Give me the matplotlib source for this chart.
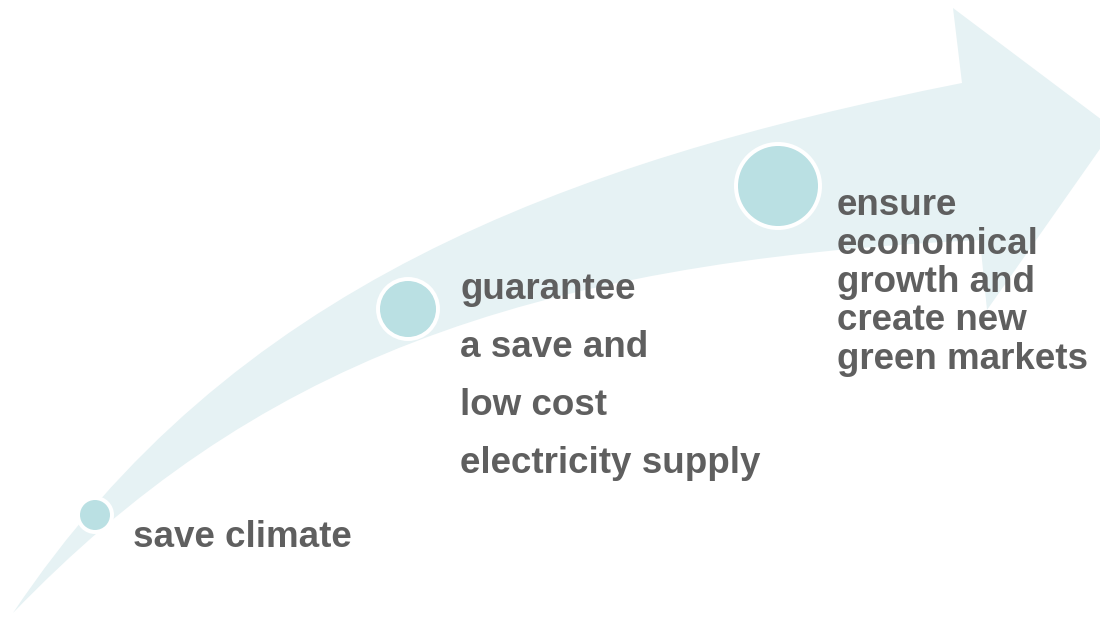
import matplotlib.pyplot as plt
from matplotlib.path import Path
from matplotlib.patches import PathPatch, Circle

# Три шага вдоль стрелы: подписи и размеры кружков
steps = ["save climate",
         "guarantee\na save and\nlow cost\nelectricity supply",
         "ensure\neconomical\ngrowth and\ncreate new\ngreen markets"]
circle_centers = [(95, 515), (408, 309), (778, 186)]
circle_radius = [15, 28, 40]
text_start = [(133, 547), (460, 299), (837, 215)]
line_step = [0, 58, 38.5]

band_color = '#e6f2f4'
dot_color = '#bae0e3'
text_color = '#5f5f5f'

fig = plt.figure(figsize=(11, 6.17), dpi=100)
ax = fig.add_axes([0, 0, 1, 1])
ax.set_xlim(0, 1100)
ax.set_ylim(617, 0)
ax.axis('off')

# Изогнутая стрела: верхний край, наконечник, нижний край
verts = [(13, 613),
         (230, 288), (560, 163), (962, 83),
         (953, 8), (1114, 129), (987, 310), (980, 240),
         (520, 262), (250, 367), (13, 613),
         (13, 613)]
codes = [Path.MOVETO,
         Path.CURVE4, Path.CURVE4, Path.CURVE4,
         Path.LINETO, Path.LINETO, Path.LINETO, Path.LINETO,
         Path.CURVE4, Path.CURVE4, Path.CURVE4,
         Path.CLOSEPOLY]
ax.add_patch(PathPatch(Path(verts, codes), facecolor=band_color, edgecolor='none'))

for (cx, cy), r in zip(circle_centers, circle_radius):
    ax.add_patch(Circle((cx, cy), r + 4, facecolor='white', edgecolor='none'))
    ax.add_patch(Circle((cx, cy), r, facecolor=dot_color, edgecolor='none'))

for label, (tx, ty), dy in zip(steps, text_start, line_step):
    for i, line in enumerate(label.split('\n')):
        ax.text(tx, ty + i * dy, line, fontsize=26.5, fontweight='bold',
                family='Liberation Sans', color=text_color,
                ha='left', va='baseline')

fig.savefig('out.png', dpi=100, facecolor='white')
